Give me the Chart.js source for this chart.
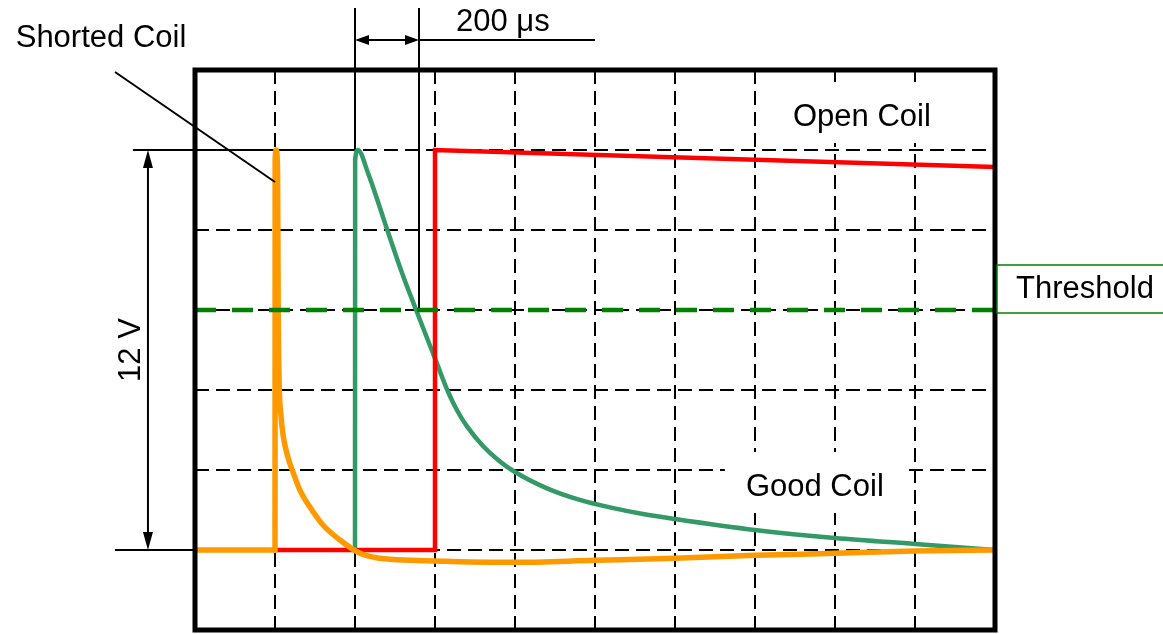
<!DOCTYPE html>
<html>
<head>
<meta charset="utf-8">
<script src="https://cdn.jsdelivr.net/npm/chart.js@4"></script>
<style>
  html, body { margin: 0; padding: 0; background: #fff; }
  #wrap { width: 1163px; height: 634px; position: relative; }
</style>
</head>
<body>
<div id="wrap"><canvas id="scopeChart"></canvas></div>
<script>
// time in microseconds, voltage in volts (1 division = 250 us, 2.4 V)
const xTicks = [0, 250, 500, 750, 1000, 1250, 1500, 1750, 2000, 2250, 2500];
const yTicks = [-2.4, 0, 2.4, 4.8, 7.2, 9.6, 12, 14.4];

const shortedTime = [0, 250, 250.5, 254, 258, 260, 263, 268, 276, 290, 306, 330, 359, 400, 453, 516, 578, 680, 788, 994, 1250, 1500, 1750, 2000, 2250, 2500];
const shortedVolts = [0, 0, 11.7, 12, 11.3, 7.2, 5.0, 4.1, 3.4, 2.8, 2.34, 1.75, 1.29, 0.75, 0.3, -0.1, -0.25, -0.31, -0.34, -0.37, -0.31, -0.25, -0.16, -0.1, -0.03, 0];

const goodTime = [500, 500.5, 509, 541, 603, 647, 691, 750, 791, 820, 850, 900, 950, 1000, 1100, 1200, 1300, 1400, 1500, 1750, 2000, 2250, 2500];
const goodVolts = [0, 11.7, 12, 11.3, 9.54, 8.31, 7.2, 5.75, 4.74, 4.17, 3.71, 3.12, 2.68, 2.34, 1.85, 1.51, 1.27, 1.08, 0.93, 0.6, 0.36, 0.18, 0];

const openTime = [250, 750, 750, 2500];
const openVolts = [0, 0, 12, 11.49];

const thresholdTime = [0, 2500];
const thresholdVolts = [7.2, 7.2];

const FONT = "31px 'Liberation Sans', Arial, sans-serif";

const toPoints = (xs, ys) => xs.map((x, i) => ({ x: x, y: ys[i] }));

function seg(ctx, x1, y1, x2, y2) {
    ctx.beginPath();
    ctx.moveTo(x1, y1);
    ctx.lineTo(x2, y2);
    ctx.stroke();
}

function arrowHead(ctx, x, y, dx, dy, len, half) {
    // tip at (x, y), pointing along (dx, dy)
    const px = -dy, py = dx;
    ctx.beginPath();
    ctx.moveTo(x, y);
    ctx.lineTo(x - dx * len + px * half, y - dy * len + py * half);
    ctx.lineTo(x - dx * len - px * half, y - dy * len - py * half);
    ctx.closePath();
    ctx.fill();
}

const scopeDecor = {
    id: 'scopeDecor',
    beforeDatasetsDraw(chart) {
        const { ctx, chartArea: a, scales: { x, y } } = chart;
        ctx.save();
        ctx.strokeStyle = '#000';
        ctx.lineWidth = 2;
        ctx.setLineDash([14, 7]);
        xTicks.slice(1, -1).forEach(t => {
            const px = Math.round(x.getPixelForValue(t));
            seg(ctx, px, a.top, px, a.bottom);
        });
        yTicks.slice(1, -1).forEach(t => {
            const py = Math.round(y.getPixelForValue(t));
            seg(ctx, a.left, py, a.right, py);
        });
        ctx.setLineDash([]);

        // white boxes behind the in-plot labels
        ctx.fillStyle = '#fff';
        [[2084, 12.99], [1937, 1.89]].forEach(([tx, ty]) => {
            const cx = x.getPixelForValue(tx), cy = y.getPixelForValue(ty);
            ctx.fillRect(cx - 90, cy - 35, 180, 61);
        });

        // solid reference lines
        ctx.lineWidth = 2;
        seg(ctx, x.getPixelForValue(-194), y.getPixelForValue(12), x.getPixelForValue(500), y.getPixelForValue(12));
        seg(ctx, x.getPixelForValue(-250), y.getPixelForValue(0), a.left, y.getPixelForValue(0));
        seg(ctx, x.getPixelForValue(500), y.getPixelForValue(16.26), x.getPixelForValue(500), y.getPixelForValue(12));
        seg(ctx, x.getPixelForValue(700), y.getPixelForValue(16.26), x.getPixelForValue(700), y.getPixelForValue(7.2));
        ctx.restore();
    },
    afterDatasetsDraw(chart) {
        const { ctx, chartArea: a, scales: { x, y } } = chart;
        ctx.save();
        ctx.strokeStyle = '#000';
        ctx.fillStyle = '#000';

        // frame
        ctx.lineWidth = 5;
        ctx.strokeRect(a.left, a.top, a.right - a.left, a.bottom - a.top);

        // 12 V dimension
        ctx.lineWidth = 2;
        const ax = x.getPixelForValue(-147);
        const yTop = y.getPixelForValue(12), yBot = y.getPixelForValue(0);
        seg(ctx, ax, yTop + 10, ax, yBot - 10);
        arrowHead(ctx, ax, yTop, 0, -1, 18, 5);
        arrowHead(ctx, ax, yBot, 0, 1, 18, 5);

        // 200 us dimension
        const dy = y.getPixelForValue(15.3);
        const x1 = x.getPixelForValue(500), x2 = x.getPixelForValue(700);
        seg(ctx, x1 + 8, dy, x2 - 8, dy);
        seg(ctx, x2, dy, x.getPixelForValue(1250), dy);
        arrowHead(ctx, x1, dy, -1, 0, 14, 5);
        arrowHead(ctx, x2, dy, 1, 0, 14, 5);

        // shorted coil leader
        seg(ctx, x.getPixelForValue(-250), y.getPixelForValue(14.34), x.getPixelForValue(250), y.getPixelForValue(11.04));

        // labels
        ctx.font = FONT;
        ctx.textAlign = 'center';
        ctx.textBaseline = 'middle';
        ctx.fillText('Shorted Coil', 101, 38);
        ctx.fillText('200 \u03bcs', x.getPixelForValue(962), y.getPixelForValue(15.84));
        ctx.fillText('Open Coil', x.getPixelForValue(2084), y.getPixelForValue(12.99));
        ctx.fillText('Good Coil', x.getPixelForValue(1937), y.getPixelForValue(1.89));

        ctx.save();
        ctx.translate(x.getPixelForValue(-200), y.getPixelForValue(6));
        ctx.rotate(-Math.PI / 2);
        ctx.fillText('12 V', 0, 0);
        ctx.restore();

        // threshold tag
        const bx = a.right + 2;
        const bt = y.getPixelForValue(8.55), bb = y.getPixelForValue(7.11);
        ctx.fillStyle = '#fff';
        ctx.fillRect(bx, bt, chart.width - bx + 4, bb - bt);
        ctx.strokeStyle = '#008000';
        ctx.lineWidth = 1.5;
        ctx.strokeRect(bx, bt, chart.width - bx + 4, bb - bt);
        ctx.fillStyle = '#000';
        ctx.fillText('Threshold', 1085, (bt + bb) / 2);
        ctx.restore();
    }
};

const ctx = document.getElementById('scopeChart').getContext('2d');
const scopeChart = new Chart(ctx, {
    type: 'line',
    data: {
        datasets: [
            {
                label: 'Threshold',
                data: toPoints(thresholdTime, thresholdVolts),
                borderColor: '#008000',
                borderWidth: 4.5,
                borderDash: [21, 16],
                order: 0
            },
            {
                label: 'Shorted Coil',
                data: toPoints(shortedTime, shortedVolts),
                borderColor: '#ff9900',
                borderWidth: 5.5,
                cubicInterpolationMode: 'monotone',
                order: 1
            },
            {
                label: 'Open Coil',
                data: toPoints(openTime, openVolts),
                borderColor: '#ff0000',
                borderWidth: 4.5,
                borderJoinStyle: 'miter',
                tension: 0,
                order: 2
            },
            {
                label: 'Good Coil',
                data: toPoints(goodTime, goodVolts),
                borderColor: '#339966',
                borderWidth: 4.5,
                cubicInterpolationMode: 'monotone',
                order: 3
            }
        ]
    },
    options: {
        responsive: true,
        maintainAspectRatio: false,
        animation: false,
        parsing: false,
        elements: { point: { radius: 0 } },
        layout: { padding: { left: 195, right: 168, top: 70, bottom: 4 } },
        scales: {
            x: { type: 'linear', display: false, min: 0, max: 2500 },
            y: { type: 'linear', display: false, min: -2.4, max: 14.4 }
        },
        plugins: {
            legend: { display: false },
            tooltip: { enabled: false }
        }
    },
    plugins: [scopeDecor]
});
</script>
</body>
</html>
